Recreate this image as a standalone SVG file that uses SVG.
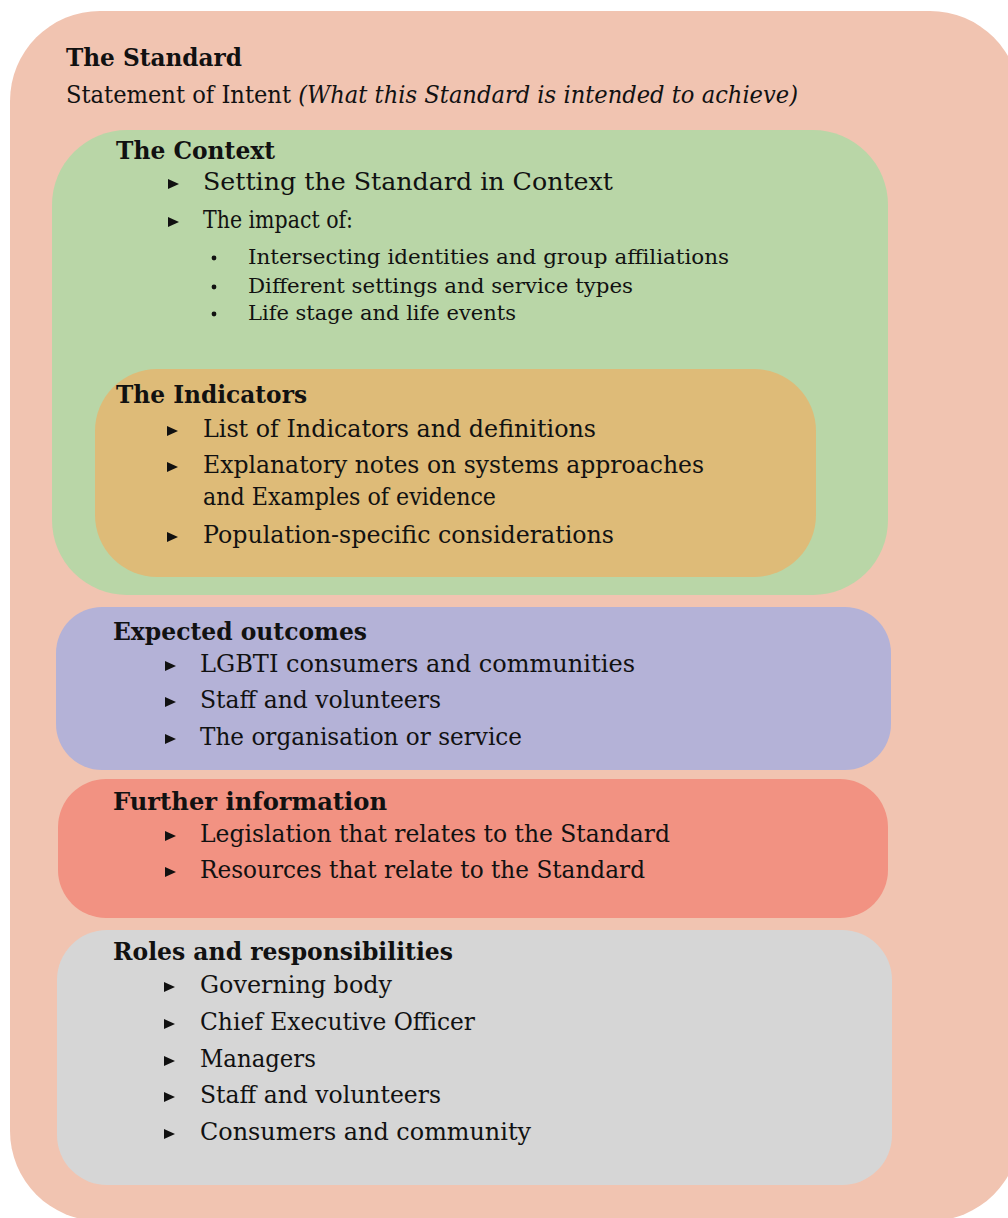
<svg xmlns="http://www.w3.org/2000/svg" width="1008" height="1218" viewBox="0 0 1008 1218">
<style>
text{font-family:"DejaVu Serif","Liberation Serif",serif;fill:#111;}
.h{font-weight:bold;font-size:24px;}
.t{font-size:24px;}
.s{font-size:20px;}
.i{font-style:italic;}
</style>
<defs>
<polygon id="tri" points="0,-11 11,-6 0,-1" fill="#111"/>
<circle id="dot" r="2.4" fill="#111"/>
</defs>
<rect width="1008" height="1218" fill="#fff"/>
<g id="standard">
<rect x="10" y="11" width="1010" height="1210" rx="90" fill="#F1C4B1"/>
<text class="h" x="66" y="66" textLength="176" lengthAdjust="spacingAndGlyphs">The Standard</text>
<text class="t" x="66" y="103" textLength="732" lengthAdjust="spacingAndGlyphs">Statement of Intent <tspan class="i">(What this Standard is intended to achieve)</tspan></text>
</g>
<g id="context">
<rect x="52" y="130" width="836" height="465" rx="75" fill="#B9D6A7"/>
<text class="h" x="116" y="159" textLength="159" lengthAdjust="spacingAndGlyphs">The Context</text>
<use href="#tri" x="168" y="190"/>
<text class="t" x="203" y="190" textLength="410" lengthAdjust="spacingAndGlyphs">Setting the Standard in Context</text>
<use href="#tri" x="168" y="228"/>
<text class="t" x="203" y="228" textLength="150" lengthAdjust="spacingAndGlyphs">The impact of:</text>
<use href="#dot" x="214" y="258"/>
<text class="s" x="248" y="264" textLength="481" lengthAdjust="spacingAndGlyphs">Intersecting identities and group affiliations</text>
<use href="#dot" x="214" y="287"/>
<text class="s" x="248" y="293" textLength="385" lengthAdjust="spacingAndGlyphs">Different settings and service types</text>
<use href="#dot" x="214" y="314"/>
<text class="s" x="248" y="320" textLength="268" lengthAdjust="spacingAndGlyphs">Life stage and life events</text>
</g>
<g id="indicators">
<rect x="95" y="369" width="721" height="208" rx="62" fill="#DEBB78"/>
<text class="h" x="116" y="403" textLength="191" lengthAdjust="spacingAndGlyphs">The Indicators</text>
<use href="#tri" x="167" y="437"/>
<text class="t" x="203" y="437" textLength="393" lengthAdjust="spacingAndGlyphs">List of Indicators and definitions</text>
<use href="#tri" x="167" y="473"/>
<text class="t" x="203" y="473" textLength="501" lengthAdjust="spacingAndGlyphs">Explanatory notes on systems approaches</text>
<text class="t" x="203" y="505" textLength="293" lengthAdjust="spacingAndGlyphs">and Examples of evidence</text>
<use href="#tri" x="167" y="543"/>
<text class="t" x="203" y="543" textLength="411" lengthAdjust="spacingAndGlyphs">Population-specific considerations</text>
</g>
<g id="outcomes">
<rect x="56" y="607" width="835" height="163" rx="46" fill="#B4B2D7"/>
<text class="h" x="113" y="640" textLength="254" lengthAdjust="spacingAndGlyphs">Expected outcomes</text>
<use href="#tri" x="165" y="672"/>
<text class="t" x="200" y="672" textLength="435" lengthAdjust="spacingAndGlyphs">LGBTI consumers  and communities</text>
<use href="#tri" x="165" y="708"/>
<text class="t" x="200" y="708" textLength="241" lengthAdjust="spacingAndGlyphs">Staff and volunteers</text>
<use href="#tri" x="165" y="745"/>
<text class="t" x="200" y="745" textLength="322" lengthAdjust="spacingAndGlyphs">The organisation or service</text>
</g>
<g id="further">
<rect x="58" y="779" width="830" height="139" rx="48" fill="#F29282"/>
<text class="h" x="113" y="810" textLength="274" lengthAdjust="spacingAndGlyphs">Further information</text>
<use href="#tri" x="165" y="842"/>
<text class="t" x="200" y="842" textLength="470" lengthAdjust="spacingAndGlyphs">Legislation that relates to the Standard</text>
<use href="#tri" x="165" y="878"/>
<text class="t" x="200" y="878" textLength="445" lengthAdjust="spacingAndGlyphs">Resources that relate to the Standard</text>
</g>
<g id="roles">
<rect x="57" y="930" width="835" height="255" rx="50" fill="#D6D6D6"/>
<text class="h" x="113" y="960" textLength="340" lengthAdjust="spacingAndGlyphs">Roles and responsibilities</text>
<use href="#tri" x="164" y="993"/>
<text class="t" x="200" y="993" textLength="192" lengthAdjust="spacingAndGlyphs">Governing body</text>
<use href="#tri" x="164" y="1030"/>
<text class="t" x="200" y="1030" textLength="275" lengthAdjust="spacingAndGlyphs">Chief Executive Officer</text>
<use href="#tri" x="164" y="1067"/>
<text class="t" x="200" y="1067" textLength="116" lengthAdjust="spacingAndGlyphs">Managers</text>
<use href="#tri" x="164" y="1103"/>
<text class="t" x="200" y="1103" textLength="241" lengthAdjust="spacingAndGlyphs">Staff and volunteers</text>
<use href="#tri" x="164" y="1140"/>
<text class="t" x="200" y="1140" textLength="331" lengthAdjust="spacingAndGlyphs">Consumers and community</text>
</g>
<g id="connectors"/>
</svg>
